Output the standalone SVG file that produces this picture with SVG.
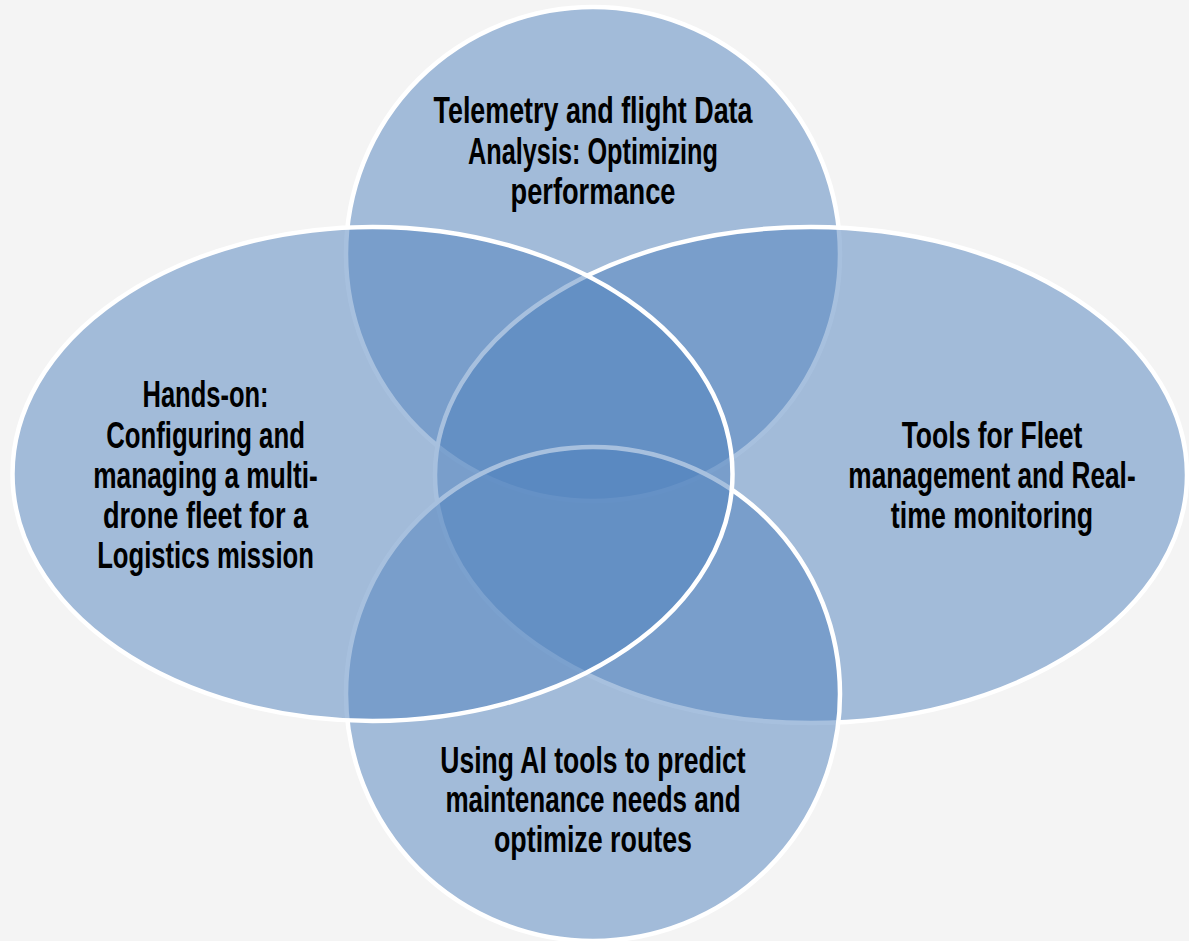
<svg xmlns="http://www.w3.org/2000/svg" width="1189" height="941" viewBox="0 0 1189 941">
<style>
.shape{fill:#4F81BD;fill-opacity:0.5;stroke:#FFFFFF;stroke-width:4.5}
.lbl{font-family:"Liberation Sans",Arial,sans-serif;font-weight:bold;font-size:37px;fill:#000000;text-anchor:middle}
</style>
<rect x="0" y="0" width="1189" height="941" fill="#F4F4F4"/>
<g id="connectors"/>
<g id="node-top">
<circle class="shape" cx="593" cy="254" r="247"/>
<text class="lbl" transform="translate(593,0) scale(0.72,1)"><tspan x="0" y="123" textLength="443" lengthAdjust="spacingAndGlyphs">Telemetry and flight Data</tspan><tspan x="0" y="164" textLength="347" lengthAdjust="spacingAndGlyphs">Analysis: Optimizing</tspan><tspan x="0" y="204" textLength="229" lengthAdjust="spacingAndGlyphs">performance</tspan></text>
</g>
<g id="node-right">
<ellipse class="shape" cx="811" cy="475" rx="376" ry="248"/>
<text class="lbl" transform="translate(992,0) scale(0.72,1)"><tspan x="0" y="448" textLength="251" lengthAdjust="spacingAndGlyphs">Tools for Fleet</tspan><tspan x="0" y="488" textLength="399" lengthAdjust="spacingAndGlyphs">management and Real-</tspan><tspan x="0" y="528" textLength="281" lengthAdjust="spacingAndGlyphs">time monitoring</tspan></text>
</g>
<g id="node-bottom">
<circle class="shape" cx="593" cy="694" r="247"/>
<text class="lbl" transform="translate(593,0) scale(0.72,1)"><tspan x="0" y="773" textLength="424" lengthAdjust="spacingAndGlyphs">Using AI tools to predict</tspan><tspan x="0" y="812" textLength="410" lengthAdjust="spacingAndGlyphs">maintenance needs and</tspan><tspan x="0" y="852" textLength="275" lengthAdjust="spacingAndGlyphs">optimize routes</tspan></text>
</g>
<g id="node-left">
<ellipse class="shape" cx="372.5" cy="474" rx="360" ry="247"/>
<text class="lbl" transform="translate(205.5,0) scale(0.72,1)"><tspan x="0" y="407" textLength="175" lengthAdjust="spacingAndGlyphs">Hands-on:</tspan><tspan x="0" y="448" textLength="276" lengthAdjust="spacingAndGlyphs">Configuring and</tspan><tspan x="0" y="488" textLength="312" lengthAdjust="spacingAndGlyphs">managing a multi-</tspan><tspan x="0" y="528" textLength="285" lengthAdjust="spacingAndGlyphs">drone fleet for a</tspan><tspan x="0" y="568" textLength="301" lengthAdjust="spacingAndGlyphs">Logistics mission</tspan></text>
</g>
</svg>
